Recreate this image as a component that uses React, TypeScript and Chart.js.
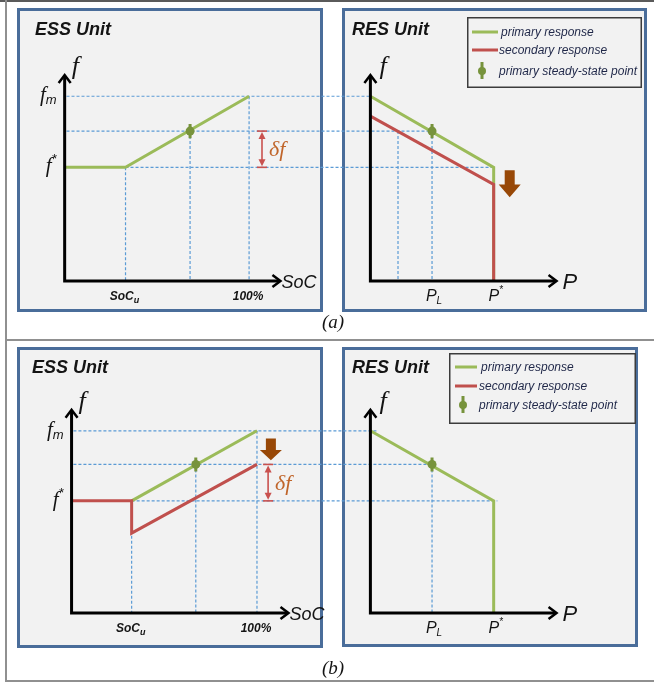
import React, { useEffect, useRef } from "react";
import { Chart, registerables } from "chart.js";
Chart.register(...registerables);

// ---------------- values (normalised: f* = 0, f_m = 1, P* = 1, SoC in %) ----------------
const F_AXIS_MIN = -1.6; // f level where the SoC / P axes sit
const F_AXIS_MAX = 1.3; // tip of the f axis
const SOC_AXIS_MAX = 117;
const P_AXIS_MAX = 1.51;
const STEADY_BAR = 0.1;

const F_TICKS = [1, 0];
const F_TICK_LABELS = ["f_m", "f^*"];
const SOC_TICK_LABELS = ["SoC_u", "100%"];
const P_TICK_LABELS = ["P_L", "P^*"];
const LEGEND_LABELS = ["primary response", "secondary response", "primary steady-state point"];
const TITLES = ["ESS Unit", "RES Unit"];

// (a)
const A_SOC_TICKS = [33, 100];
const A_P_TICKS = [0.5, 1];
const A_ESS_PRIMARY_SOC = [0, 33, 100];
const A_ESS_PRIMARY_F = [0, 0, 1];
const A_RES_PRIMARY_P = [0, 1, 1];
const A_RES_PRIMARY_F = [1, 0, F_AXIS_MIN];
const A_RES_SECONDARY_P = [0, 1, 1];
const A_RES_SECONDARY_F = [0.72, -0.24, F_AXIS_MIN];
const A_STEADY_SOC = 68;
const A_STEADY_P = 0.5;
const A_STEADY_F = 0.51;
const A_GUIDES_H = [[1, 1, 0], [0.51, 1, 0.5], [0, 33, 1]]; // f, from SoC, to P
const A_GUIDES_V_SOC = [[33, 0], [68, 0.51], [100, 1]]; // SoC, top f
const A_GUIDES_V_P = [[0.224, 0.51], [0.5, 0.51]]; // P, top f
const A_DELTA = [107, 0.51, 0]; // SoC, f top, f bottom
const A_SHIFT = [1.13, -0.04, -0.42]; // P, f top, f bottom

// (b)
const B_SOC_TICKS = [32.4, 100];
const B_P_TICKS = [0.5, 1];
const B_ESS_PRIMARY_SOC = [32.4, 100];
const B_ESS_PRIMARY_F = [0, 1];
const B_ESS_SECONDARY_SOC = [0, 32.4, 32.4, 100];
const B_ESS_SECONDARY_F = [0, 0, -0.46, 0.52];
const B_RES_PRIMARY_P = [0, 1, 1];
const B_RES_PRIMARY_F = [1, 0, F_AXIS_MIN];
const B_STEADY_SOC = 67;
const B_STEADY_P = 0.5;
const B_STEADY_F = 0.52;
const B_GUIDES_H = [[1, 1, 0.06], [0.52, 1, 0.5], [0, 32.4, 1.03]];
const B_GUIDES_V_SOC = [[32.4, 0], [67, 0.52], [100, 1]];
const B_GUIDES_V_P = [[0.5, 0.52]];
const B_DELTA = [106, 0.52, 0];
const B_SHIFT = [107.5, 0.89, 0.58]; // SoC, f top, f bottom

// ---------------- styles ----------------
const W = 654;
const H = 683;
const GREEN = "#9bbb59";
const RED = "#c0504d";
const DOT = "#77933c";
const GUIDE = "#5b9bd5";
const BROWN = "#984807";
const DELTA_RED = "#c9514e";
const DELTA_TEXT = "#c0652a";
const PANEL_BG = "#f2f2f2";
const PANEL_BORDER = "#4a6d9a";
const INK = "#141414";
const LEGEND_INK = "#1f2748";
const SANS = '"Liberation Sans"';
const SERIF = '"Liberation Serif"';

const ROWS: any[] = [
  {
    xEss: "xEssA", xRes: "xResA", y: "yA", caption: "a",
    ess: [61, 248], res: [371, 496], f: [165, 93],
    panels: [[17, 8, 306, 304], [342, 8, 305, 304]],
    titleX: [35, 352], titleY: 35, captionY: 328,
    legend: [467, 17, 175, 71], legLine: [5, 31], legText: 34, legRows: [15, 33, 54], legMarkX: 15,
    socTicks: A_SOC_TICKS, pTicks: A_P_TICKS,
    guidesH: A_GUIDES_H, guidesVSoc: A_GUIDES_V_SOC, guidesVP: A_GUIDES_V_P,
    delta: A_DELTA, shift: A_SHIFT, shiftOn: "res",
    series: [
      { kind: "point", on: "ess", x: A_STEADY_SOC, f: A_STEADY_F },
      { kind: "point", on: "res", x: A_STEADY_P, f: A_STEADY_F },
      { kind: "line", on: "res", color: RED, x: A_RES_SECONDARY_P, f: A_RES_SECONDARY_F },
      { kind: "line", on: "ess", color: GREEN, x: A_ESS_PRIMARY_SOC, f: A_ESS_PRIMARY_F },
      { kind: "line", on: "res", color: GREEN, x: A_RES_PRIMARY_P, f: A_RES_PRIMARY_F },
    ],
  },
  {
    xEss: "xEssB", xRes: "xResB", y: "yB", caption: "b",
    ess: [68, 256], res: [371, 496], f: [503, 432],
    panels: [[17, 347, 306, 301], [342, 347, 296, 300]],
    titleX: [32, 352], titleY: 373, captionY: 674,
    legend: [449, 353, 187, 71], legLine: [6, 28], legText: 32, legRows: [14, 33, 52], legMarkX: 14,
    socTicks: B_SOC_TICKS, pTicks: B_P_TICKS,
    guidesH: B_GUIDES_H, guidesVSoc: B_GUIDES_V_SOC, guidesVP: B_GUIDES_V_P,
    delta: B_DELTA, shift: B_SHIFT, shiftOn: "ess",
    series: [
      { kind: "point", on: "ess", x: B_STEADY_SOC, f: B_STEADY_F },
      { kind: "point", on: "res", x: B_STEADY_P, f: B_STEADY_F },
      { kind: "line", on: "ess", color: RED, x: B_ESS_SECONDARY_SOC, f: B_ESS_SECONDARY_F },
      { kind: "line", on: "ess", color: GREEN, x: B_ESS_PRIMARY_SOC, f: B_ESS_PRIMARY_F },
      { kind: "line", on: "res", color: GREEN, x: B_RES_PRIMARY_P, f: B_RES_PRIMARY_F },
    ],
  },
];

function xCal(v0: number, v1: number, p0: number, p1: number) {
  const k = (v1 - v0) / (p1 - p0);
  return { min: v0 - p0 * k, max: v0 + (W - p0) * k };
}
function yCal(v0: number, v1: number, p0: number, p1: number) {
  const k = (v1 - v0) / (p0 - p1);
  return { min: v0 - (H - p0) * k, max: v0 + p0 * k };
}

function seg(ctx: CanvasRenderingContext2D, x1: number, y1: number, x2: number, y2: number) {
  ctx.beginPath();
  ctx.moveTo(x1, y1);
  ctx.lineTo(x2, y2);
  ctx.stroke();
}

function drawRich(ctx: CanvasRenderingContext2D, text: string, x: number, y: number, align: string, st: any) {
  let main = text;
  let small = "";
  let dy = 0;
  const i = text.search(/[_^]/);
  if (i >= 0) {
    main = text.slice(0, i);
    small = text.slice(i + 1);
    dy = text[i] === "_" ? st.subDy : st.supDy;
  }
  ctx.font = st.font;
  const wm = ctx.measureText(main).width;
  ctx.font = st.small;
  const ws = small ? ctx.measureText(small).width + (st.gap || 0) : 0;
  const total = wm + ws;
  const x0 = align === "center" ? x - total / 2 : align === "right" ? x - total : x;
  ctx.textAlign = "left";
  ctx.textBaseline = "alphabetic";
  ctx.fillStyle = st.color || INK;
  ctx.font = st.font;
  ctx.fillText(main, x0, y);
  if (small) {
    ctx.font = st.small;
    ctx.fillText(small, x0 + wm + (st.gap || 0), y + dy);
  }
}

const F_TICK_STYLE = { font: `italic 21px ${SERIF}`, small: `italic 13px ${SANS}`, subDy: 3, supDy: -9, gap: 0 };
const SOC_TICK_STYLE = { font: `italic bold 12px ${SANS}`, small: `italic bold 9px ${SANS}`, subDy: 3, supDy: -6, gap: 0 };
const P_TICK_STYLE = { font: `italic 16px ${SANS}`, small: `italic 10px ${SANS}`, subDy: 3, supDy: -8, gap: 0 };

function drawAxis(ctx: CanvasRenderingContext2D, ox: number, oy: number, yTip: number, xTip: number) {
  ctx.save();
  ctx.setLineDash([]);
  ctx.strokeStyle = "#000";
  ctx.lineWidth = 3;
  ctx.lineJoin = "miter";
  ctx.beginPath();
  ctx.moveTo(ox, yTip + 1);
  ctx.lineTo(ox, oy);
  ctx.lineTo(xTip - 1, oy);
  ctx.stroke();
  ctx.lineWidth = 2.5;
  ctx.beginPath();
  ctx.moveTo(ox - 6, yTip + 8);
  ctx.lineTo(ox, yTip);
  ctx.lineTo(ox + 6, yTip + 8);
  ctx.stroke();
  ctx.beginPath();
  ctx.moveTo(xTip - 8, oy - 6);
  ctx.lineTo(xTip, oy);
  ctx.lineTo(xTip - 8, oy + 6);
  ctx.stroke();
  ctx.restore();
}

const diagramPlugin = {
  id: "diagram",
  beforeDraw(chart: any) {
    const ctx: CanvasRenderingContext2D = chart.ctx;
    ctx.save();
    ctx.fillStyle = "#fff";
    ctx.fillRect(0, 0, W, H);
    ctx.fillStyle = "#5a5a5a";
    ctx.fillRect(0, 0, W, 2);
    ctx.fillStyle = "#909090";
    ctx.fillRect(5, 0, 2, H - 1);
    ctx.fillRect(5, 339, W - 5, 2);
    ctx.fillRect(5, 680, W - 5, 2);
    ROWS.forEach((r) => {
      r.panels.forEach((p: number[], k: number) => {
        ctx.fillStyle = PANEL_BG;
        ctx.fillRect(p[0], p[1], p[2], p[3]);
        ctx.strokeStyle = PANEL_BORDER;
        ctx.lineWidth = 3;
        ctx.strokeRect(p[0] + 1.5, p[1] + 1.5, p[2] - 3, p[3] - 3);
        ctx.fillStyle = INK;
        ctx.font = `italic bold 18px ${SANS}`;
        ctx.textAlign = "left";
        ctx.textBaseline = "alphabetic";
        ctx.fillText(TITLES[k], r.titleX[k], r.titleY);
      });
      // legend
      const [lx, ly, lw, lh] = r.legend;
      ctx.fillStyle = PANEL_BG;
      ctx.fillRect(lx, ly, lw, lh);
      ctx.strokeStyle = "#3c3c3c";
      ctx.lineWidth = 1.5;
      ctx.strokeRect(lx + 0.75, ly + 0.75, lw - 1.5, lh - 1.5);
      const colors = [GREEN, RED];
      r.legRows.forEach((ry: number, k: number) => {
        const cy = ly + ry;
        if (k < 2) {
          ctx.strokeStyle = colors[k];
          ctx.lineWidth = 3;
          seg(ctx, lx + r.legLine[0], cy, lx + r.legLine[1], cy);
        } else {
          const mx = lx + r.legMarkX;
          ctx.strokeStyle = DOT;
          ctx.lineWidth = 3;
          seg(ctx, mx, cy - 9, mx, cy + 8);
          ctx.fillStyle = DOT;
          ctx.beginPath();
          ctx.arc(mx, cy, 4, 0, Math.PI * 2);
          ctx.fill();
        }
        ctx.fillStyle = LEGEND_INK;
        ctx.font = `italic 12px ${SANS}`;
        ctx.textAlign = "left";
        ctx.fillText(LEGEND_LABELS[k], lx + r.legText - (k > 0 ? 2 : 0), cy + 4);
      });
      // caption
      ctx.fillStyle = INK;
      ctx.font = `italic 19px ${SERIF}`;
      ctx.textAlign = "center";
      ctx.fillText(`(${r.caption})`, 333, r.captionY);
    });
    ctx.restore();
  },
  beforeDatasetsDraw(chart: any) {
    const ctx: CanvasRenderingContext2D = chart.ctx;
    ctx.save();
    ctx.strokeStyle = GUIDE;
    ctx.lineWidth = 1.2;
    ctx.setLineDash([3, 2]);
    ROWS.forEach((r) => {
      const Xe = (v: number) => chart.scales[r.xEss].getPixelForValue(v);
      const Xr = (v: number) => chart.scales[r.xRes].getPixelForValue(v);
      const Y = (v: number) => chart.scales[r.y].getPixelForValue(v);
      const base = Y(F_AXIS_MIN);
      r.guidesH.forEach(([f, s, p]: number[]) => seg(ctx, Xe(s), Y(f), Xr(p), Y(f)));
      r.guidesVSoc.forEach(([s, f]: number[]) => seg(ctx, Xe(s), Y(f), Xe(s), base));
      r.guidesVP.forEach(([p, f]: number[]) => seg(ctx, Xr(p), Y(f), Xr(p), base));
    });
    ctx.restore();
  },
  afterDatasetsDraw(chart: any) {
    const ctx: CanvasRenderingContext2D = chart.ctx;
    ctx.save();
    ROWS.forEach((r) => {
      const Xe = (v: number) => chart.scales[r.xEss].getPixelForValue(v);
      const Xr = (v: number) => chart.scales[r.xRes].getPixelForValue(v);
      const Y = (v: number) => chart.scales[r.y].getPixelForValue(v);
      const oy = Y(F_AXIS_MIN);
      const yTip = Y(F_AXIS_MAX);
      const oxE = Xe(0);
      const oxR = Xr(0);
      drawAxis(ctx, oxE, oy, yTip, Xe(SOC_AXIS_MAX));
      drawAxis(ctx, oxR, oy, yTip, Xr(P_AXIS_MAX));
      // axis titles
      ctx.fillStyle = INK;
      ctx.textAlign = "left";
      ctx.textBaseline = "alphabetic";
      ctx.font = `italic 26px ${SERIF}`;
      ctx.fillText("f", oxE + 7, yTip - 1);
      ctx.fillText("f", oxR + 9, yTip - 1);
      ctx.font = `italic 18px ${SANS}`;
      ctx.fillText("SoC", Xe(SOC_AXIS_MAX) + 1, oy + 7);
      ctx.font = `italic 22px ${SANS}`;
      ctx.fillText("P", Xr(P_AXIS_MAX) + 6, oy + 8);
      // ticks
      F_TICKS.forEach((v, k) => drawRich(ctx, F_TICK_LABELS[k], oxE - 8, Y(v) + 5, "right", F_TICK_STYLE));
      r.socTicks.forEach((v: number, k: number) => drawRich(ctx, SOC_TICK_LABELS[k], Xe(v) - 1, oy + 19, "center", SOC_TICK_STYLE));
      r.pTicks.forEach((v: number, k: number) => drawRich(ctx, P_TICK_LABELS[k], Xr(v) + 2, oy + 20, "center", P_TICK_STYLE));
      // delta f
      const dx = Xe(r.delta[0]);
      const y1 = Y(r.delta[1]);
      const y2 = Y(r.delta[2]);
      ctx.strokeStyle = DELTA_RED;
      ctx.fillStyle = DELTA_RED;
      ctx.lineWidth = 1.6;
      seg(ctx, dx - 5, y1, dx + 5, y1);
      seg(ctx, dx - 5, y2, dx + 5, y2);
      seg(ctx, dx, y1 + 5, dx, y2 - 5);
      ctx.beginPath();
      ctx.moveTo(dx, y1 + 1);
      ctx.lineTo(dx - 3.5, y1 + 8);
      ctx.lineTo(dx + 3.5, y1 + 8);
      ctx.closePath();
      ctx.fill();
      ctx.beginPath();
      ctx.moveTo(dx, y2 - 1);
      ctx.lineTo(dx - 3.5, y2 - 8);
      ctx.lineTo(dx + 3.5, y2 - 8);
      ctx.closePath();
      ctx.fill();
      ctx.fillStyle = DELTA_TEXT;
      ctx.font = `italic 22px ${SERIF}`;
      ctx.textAlign = "left";
      ctx.fillText("δf", dx + 7, (y1 + y2) / 2 + 7);
      // shift arrow
      const sx = r.shiftOn === "res" ? Xr(r.shift[0]) : Xe(r.shift[0]);
      const st = Y(r.shift[1]);
      const sb = Y(r.shift[2]);
      const head = (sb - st) * 0.47;
      ctx.fillStyle = BROWN;
      ctx.beginPath();
      ctx.moveTo(sx - 5, st);
      ctx.lineTo(sx + 5, st);
      ctx.lineTo(sx + 5, sb - head);
      ctx.lineTo(sx + 11, sb - head);
      ctx.lineTo(sx, sb);
      ctx.lineTo(sx - 11, sb - head);
      ctx.lineTo(sx - 5, sb - head);
      ctx.closePath();
      ctx.fill();
    });
    ctx.restore();
  },
};

function buildDatasets() {
  const out: any[] = [];
  ROWS.forEach((r) => {
    r.series.forEach((s: any, idx: number) => {
      const xAxisID = s.on === "ess" ? r.xEss : r.xRes;
      const yAxisID = r.y;
      if (s.kind === "point") {
        out.push({
          label: "steady bar",
          data: [{ x: s.x, y: s.f - STEADY_BAR }, { x: s.x, y: s.f + STEADY_BAR }],
          xAxisID, yAxisID, showLine: true, borderColor: DOT, borderWidth: 3, pointRadius: 0, order: 1,
        });
        out.push({
          label: "steady point",
          data: [{ x: s.x, y: s.f }],
          xAxisID, yAxisID, showLine: false, pointRadius: 4.5, pointBackgroundColor: DOT, pointBorderWidth: 0, order: 0,
        });
      } else {
        out.push({
          label: s.color === RED ? "secondary response" : "primary response",
          data: s.x.map((x: number, i: number) => ({ x, y: s.f[i] })),
          xAxisID, yAxisID, showLine: true, borderColor: s.color, borderWidth: 3, pointRadius: 0,
          tension: 0, fill: false, borderJoinStyle: "miter", order: s.color === RED ? 2 : 3 + idx,
        });
      }
    });
  });
  return out;
}

export default function App() {
  const ref = useRef<HTMLCanvasElement>(null);
  useEffect(() => {
    const canvas = ref.current!;
    const scales: any = {};
    ROWS.forEach((r) => {
      scales[r.xEss] = { type: "linear", axis: "x", display: false, ...xCal(0, 100, r.ess[0], r.ess[1]) };
      scales[r.xRes] = { type: "linear", axis: "x", display: false, ...xCal(0, 1, r.res[0], r.res[1]) };
      scales[r.y] = { type: "linear", axis: "y", display: false, ...yCal(0, 1, r.f[0], r.f[1]) };
    });
    const chart = new Chart(canvas, {
      type: "scatter",
      data: { datasets: buildDatasets() },
      options: {
        responsive: false,
        maintainAspectRatio: false,
        devicePixelRatio: 1,
        animation: false,
        events: [],
        layout: { padding: 0 },
        scales,
        plugins: { legend: { display: false }, tooltip: { enabled: false } },
      } as any,
      plugins: [diagramPlugin],
    });
    return () => chart.destroy();
  }, []);
  return (
    <div style={{ position: "absolute", left: 0, top: 0, width: W, height: H, background: "#fff" }}>
      <canvas ref={ref} width={W} height={H} style={{ display: "block", width: W, height: H }} />
    </div>
  );
}
